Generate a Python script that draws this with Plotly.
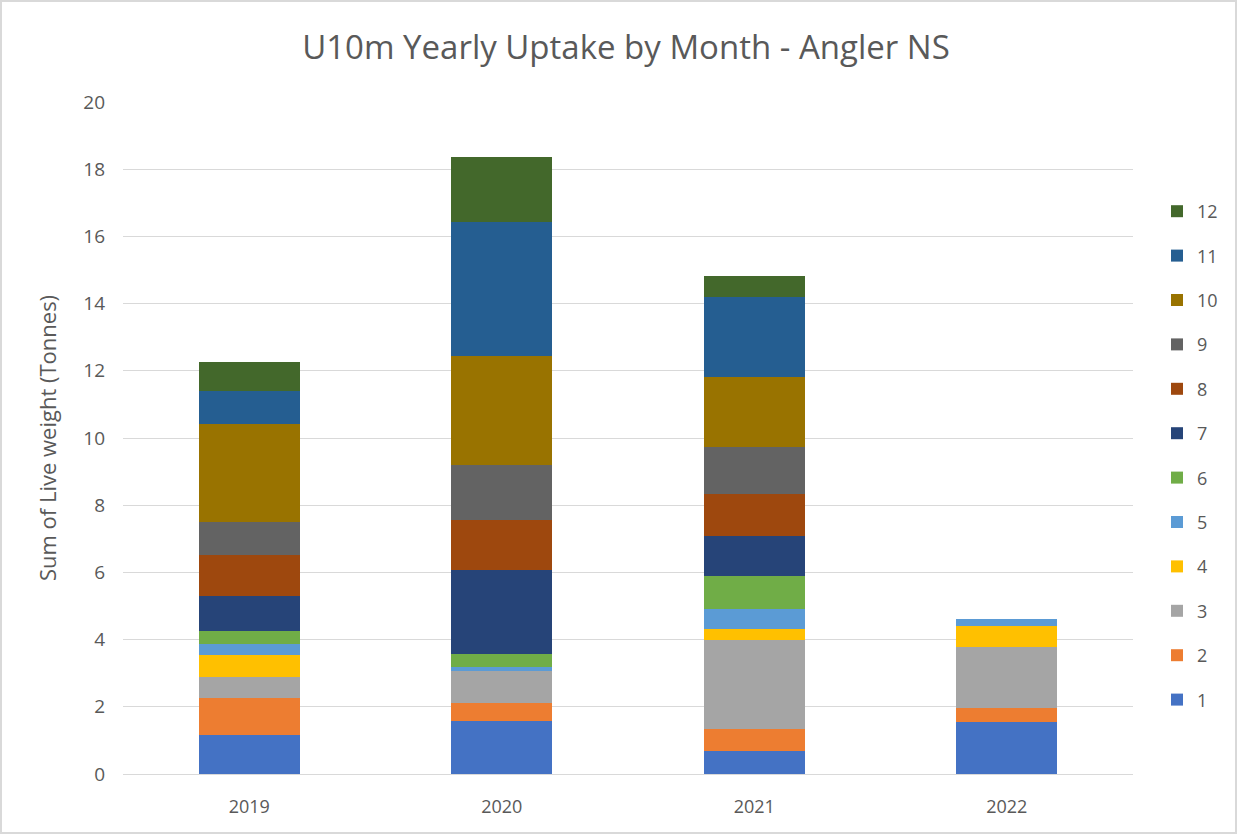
import plotly.graph_objects as go

years = ["2019", "2020", "2021", "2022"]
months = ["1", "2", "3", "4", "5", "6", "7", "8", "9", "10", "11", "12"]
m1 = [1.17, 1.59, 0.67, 1.55]
m2 = [1.08, 0.53, 0.68, 0.41]
m3 = [0.63, 0.96, 2.64, 1.83]
m4 = [0.66, 0.00, 0.34, 0.61]
m5 = [0.33, 0.10, 0.57, 0.22]
m6 = [0.40, 0.39, 0.99, 0.0]
m7 = [1.02, 2.51, 1.18, 0.0]
m8 = [1.22, 1.49, 1.25, 0.0]
m9 = [0.99, 1.63, 1.41, 0.0]
m10 = [2.93, 3.23, 2.09, 0.0]
m11 = [0.96, 3.99, 2.37, 0.0]
m12 = [0.86, 1.95, 0.64, 0.0]
series = [m1, m2, m3, m4, m5, m6, m7, m8, m9, m10, m11, m12]
colors = ["#4472C4", "#ED7D31", "#A5A5A5", "#FFC000", "#5B9BD5", "#70AD47",
          "#264478", "#9E480E", "#636363", "#997300", "#255E91", "#43682B"]

fig = go.Figure()
for i, (name, vals, col) in enumerate(zip(months, series, colors)):
    fig.add_trace(go.Bar(x=years, y=vals, name=name, marker_color=col,
                         marker_line_width=0, legendgroup=name,
                         legendrank=100 - i))

W, H = 1237, 834
L, R, T, B = 123, 104, 102, 60
pw, ph = W - L - R, H - T - B

fig.update_layout(
    width=W, height=H, autosize=False,
    barmode="stack", bargap=0.6,
    plot_bgcolor="white", paper_bgcolor="white",
    margin=dict(l=L, r=R, t=T, b=B, autoexpand=False),
    font=dict(family="Open Sans, Noto Sans, sans-serif", color="#595959"),
    title=dict(text="U10m Yearly Uptake by Month - Angler NS",
               x=626 / W, xanchor="center", xref="container",
               y=1 - 47 / H, yanchor="middle", yref="container",
               font=dict(size=33, color="#595959")),
    legend=dict(traceorder="grouped", tracegroupgap=18,
                x=(1157 - L) / pw, xanchor="left",
                y=(H - B - 193) / ph, yanchor="top",
                font=dict(size=18, color="#595959"),
                bgcolor="rgba(0,0,0,0)"),
    xaxis=dict(showgrid=False, showline=True, linecolor="#D9D9D9",
               tickfont=dict(size=18, color="#595959"), ticks="",
               ticklabelstandoff=16),
    yaxis=dict(range=[0, 20], dtick=2, showgrid=True, gridcolor="#D9D9D9",
               gridwidth=1, zeroline=False,
               tickfont=dict(size=19, color="#595959"), ticks="",
               ticklabelstandoff=17,
               title=dict(text="Sum of Live weight (Tonnes)",
                          font=dict(size=22, color="#595959"), standoff=20)),
    shapes=[dict(type="rect", xref="paper", yref="paper",
                 x0=(1 - L) / pw, x1=(W - 1 - L) / pw,
                 y0=(H - B - (H - 1)) / ph, y1=(H - B - 1) / ph,
                 line=dict(color="#D9D9D9", width=2), fillcolor="rgba(0,0,0,0)",
                 layer="below")],
)

fig.write_html(
    "out.html",
    config={"displayModeBar": False, "responsive": False},
    default_width="1237px", default_height="834px",
    post_script="document.body.style.margin='0';document.body.style.overflow='hidden';",
)
